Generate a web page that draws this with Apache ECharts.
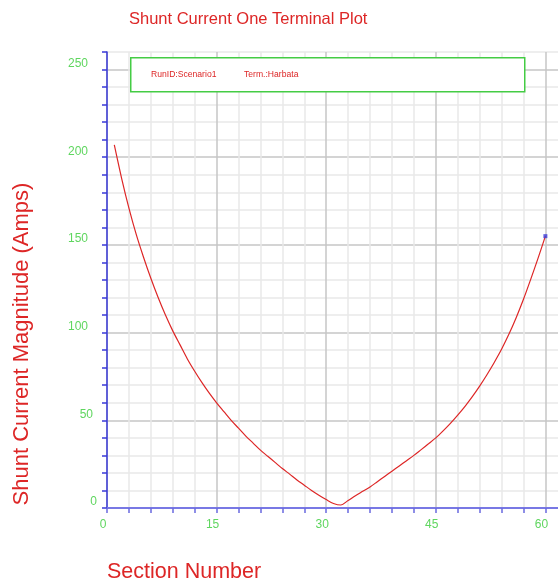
<!DOCTYPE html>
<html>
<head>
<meta charset="utf-8">
<script src="https://cdn.jsdelivr.net/npm/echarts@6/dist/echarts.min.js"></script>
<style>
html,body{margin:0;padding:0;background:#fff;}
#chart{width:558px;height:581px;}
</style>
</head>
<body>
<div id="chart"></div>
<script>
var sections = [1,2,3,4,5,6,7,8,9,10,11,12,13,14,15,16,17,18,19,20,21,22,23,24,25,26,27,28,29,30,31,32,33,34,35,36,37,38,39,40,41,42,43,44,45,46,47,48,49,50,51,52,53,54,55,56,57,58,59,60];
var shuntCurrent = [207,188,171,156,143,131,120,110,101,93,85,78,71.5,65.5,60,55,50,45.5,41,37,33,29.5,26,22.5,19.3,16,13,10,7.3,4.8,2.6,1.7,4.3,7,9.5,12,15,18,21,24,27,30,33.3,36.6,40,44,48.3,53,58,63.5,69.5,76,83,90.5,99,108.5,119,130.5,142.5,155];
var xTicks = [0,15,30,45,60];
var yTicks = [0,50,100,150,200,250];
var titleText = 'Shunt Current One Terminal Plot';
var xName = 'Section Number';
var yName = 'Shunt Current Magnitude (Amps)';
var legendTexts = ['RunID:Scenario1', 'Term.:Harbata'];

var red = '#dd2626';
var green = '#5fd65f';
var major = '#c6c6c6';
var minor = '#e8e8e8';
var font = 'Liberation Sans, Arial, sans-serif';

var lineData = sections.map(function(s, i){ return [s, shuntCurrent[i]]; });
var last = lineData[lineData.length - 1];

var chart = echarts.init(document.getElementById('chart'), null, {renderer:'canvas'});
chart.setOption({
  backgroundColor: '#ffffff',
  animation: false,
  title: {
    text: titleText,
    left: 129, top: 11, padding: 0,
    textStyle: {color: red, fontSize: 16.5, fontWeight: 'normal', fontFamily: font}
  },
  grid: {left: 107, width: 453, top: 52, bottom: 73, containLabel: false, outerBoundsMode: 'none'},
  xAxis: {
    type: 'value', min: 0, max: 62, interval: 3,
    axisLine: {show: true, onZero: false, lineStyle: {color: '#7878e4', width: 2}},
    axisTick: {show: true, length: 5, lineStyle: {color: '#6a6ae0', width: 1.5}},
    axisLabel: {
      color: green, fontSize: 12, margin: 11, fontFamily: font, padding: [0, 8, 0, 0],
      formatter: function(v){ return xTicks.indexOf(v) >= 0 ? String(v) : ''; }
    },
    splitLine: {show: true, lineStyle: {color: [major, minor, minor, minor, minor], width: 1.5}}
  },
  yAxis: {
    type: 'value', min: 0, max: 260, interval: 10,
    axisLine: {show: true, onZero: false, lineStyle: {color: '#3a3ad8', width: 1.5}},
    axisTick: {show: true, length: 5, lineStyle: {color: '#3a3ad8', width: 1.5}},
    axisLabel: {
      color: green, fontSize: 12, margin: 10, verticalAlign: 'bottom', fontFamily: font,
      formatter: function(v){
        if (yTicks.indexOf(v) < 0) return '';
        var s = String(v);
        return '{d' + s.length + '|' + s + '}';
      },
      rich: {
        d1: {color: green, fontSize: 12, fontFamily: font, padding: [0, 0, 0, 0]},
        d2: {color: green, fontSize: 12, fontFamily: font, padding: [0, 4, 0, 0]},
        d3: {color: green, fontSize: 12, fontFamily: font, padding: [0, 9, 0, 0]}
      }
    },
    splitLine: {show: true, lineStyle: {color: [major, minor, minor, minor, minor], width: 1.5}}
  },
  graphic: [
    {type: 'rect', left: 130, top: 57, z: 100,
     shape: {width: 394, height: 34},
     style: {fill: '#ffffff', stroke: '#44cc44', lineWidth: 1.5}},
    {type: 'text', left: 151, top: 70, z: 101,
     style: {text: legendTexts[0], fill: red, fontSize: 8.6, fontFamily: font}},
    {type: 'text', left: 244, top: 70, z: 101,
     style: {text: legendTexts[1], fill: red, fontSize: 8.6, fontFamily: font}},
    {type: 'text', left: 107, top: 561, z: 101,
     style: {text: xName, fill: red, fontSize: 21.5, fontFamily: font}},
    {type: 'text', x: 22, y: 344, rotation: Math.PI/2, z: 101,
     style: {text: yName, fill: red, fontSize: 22, align: 'center', verticalAlign: 'middle', fontFamily: font}}
  ],
  series: [
    {type: 'line', data: lineData, symbol: 'none', smooth: 0.3,
     lineStyle: {color: red, width: 1.2}, z: 3},
    {type: 'scatter', data: [last], symbol: 'rect', symbolSize: 4,
     itemStyle: {color: '#3a3ad8'}, z: 4}
  ]
});
</script>
</body>
</html>
